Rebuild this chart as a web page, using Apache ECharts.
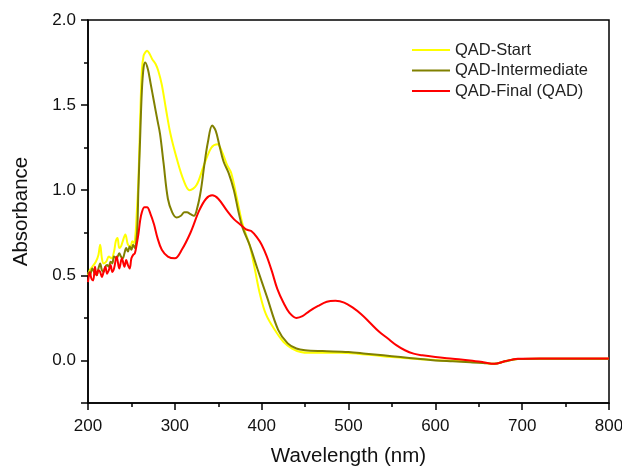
<!DOCTYPE html>
<html>
<head>
<meta charset="utf-8">
<script src="https://cdn.jsdelivr.net/npm/echarts@6/dist/echarts.min.js"></script>
<style>html,body{margin:0;padding:0;background:#fff;}#c{width:622px;height:466px;}</style>
</head>
<body>
<div id="c"></div>
<script>
const seriesNames = ['QAD-Start', 'QAD-Intermediate', 'QAD-Final (QAD)'];
const xTicks = [200, 300, 400, 500, 600, 700, 800];
const yTicks = ['0.0', '0.5', '1.0', '1.5', '2.0'];

const startX = [200,202,205,209,212,214,216,218,221,224,227,230,232,234,236,238,240,243,246,249,251,253,255,256,258,260,262,264,266,268,271,274,278,281,285,290,295,302,310,317,325,333,342,349,354,360,365,372,378,386,392,398,405,415,425,435,445,455,470,490,510,530,550,570,590,610,630,650,668,680,695,720,760,800];
const startY = [0.50,0.53,0.55,0.58,0.62,0.68,0.60,0.57,0.58,0.61,0.60,0.64,0.70,0.72,0.66,0.67,0.70,0.74,0.68,0.67,0.70,0.69,0.76,0.85,1.05,1.40,1.70,1.79,1.81,1.82,1.80,1.77,1.74,1.70,1.62,1.47,1.33,1.19,1.06,1.00,1.03,1.14,1.25,1.27,1.23,1.15,1.10,0.94,0.80,0.68,0.54,0.39,0.27,0.18,0.11,0.07,0.05,0.045,0.045,0.045,0.04,0.03,0.02,0.012,0.005,0.0,-0.005,-0.01,-0.02,-0.005,0.008,0.01,0.01,0.01];

const interX = [200,202,205,207,210,212,214,216,218,220,222,224,226,228,230,233,236,238,240,242,244,246,248,250,252,254,256,257,258,260,262,264,266,269,272,276,280,283,287,292,297,302,307,311,314,318,322,326,330,334,338,343,347,351,356,362,368,373,378,386,395,406,419,430,440,450,470,500,520,540,560,580,600,620,640,655,668,680,695,720,760,800];
const interY = [0.52,0.50,0.54,0.52,0.50,0.54,0.57,0.53,0.52,0.55,0.56,0.55,0.58,0.57,0.61,0.60,0.63,0.61,0.60,0.63,0.66,0.64,0.67,0.65,0.68,0.66,0.72,0.80,1.00,1.30,1.58,1.72,1.75,1.71,1.63,1.52,1.41,1.33,1.16,0.95,0.87,0.84,0.85,0.87,0.87,0.86,0.85,0.90,1.00,1.15,1.28,1.38,1.35,1.27,1.17,1.10,1.00,0.88,0.78,0.68,0.54,0.375,0.18,0.10,0.07,0.06,0.055,0.05,0.04,0.03,0.02,0.01,0.0,-0.005,-0.01,-0.015,-0.02,-0.005,0.008,0.01,0.01,0.01];

const finalX = [200,202,204,206,208,210,212,214,216,218,220,222,224,226,228,230,233,236,239,242,244,246,248,250,252,254,256,258,260,262,265,268,272,276,280,285,292,300,308,318,328,336,343,350,360,368,375,382,388,395,400,406,412,418,425,432,440,447,455,465,475,485,495,505,515,525,535,545,555,565,575,585,600,620,640,655,668,680,695,720,760,800];
const finalY = [0.46,0.52,0.48,0.47,0.55,0.50,0.53,0.52,0.49,0.52,0.55,0.51,0.53,0.56,0.52,0.54,0.61,0.54,0.60,0.55,0.59,0.56,0.54,0.60,0.62,0.63,0.68,0.74,0.82,0.87,0.90,0.90,0.86,0.80,0.72,0.65,0.61,0.60,0.65,0.75,0.88,0.95,0.97,0.95,0.88,0.83,0.80,0.77,0.76,0.72,0.68,0.61,0.52,0.42,0.34,0.28,0.25,0.26,0.29,0.32,0.345,0.35,0.34,0.31,0.27,0.22,0.17,0.13,0.09,0.06,0.04,0.03,0.02,0.01,0.0,-0.01,-0.02,-0.005,0.01,0.012,0.012,0.012];

function pairs(xs, ys) { return xs.map((x, i) => [x, ys[i]]); }

const chart = echarts.init(document.getElementById('c'));
const fontFam = '"Liberation Sans", Arial, sans-serif';
chart.setOption({
  animation: false,
  backgroundColor: '#fff',
  grid: { left: 88, right: 13, top: 20, bottom: 63, show: true, borderColor: '#000', borderWidth: 1.5, backgroundColor: 'transparent', containLabel: false, outerBoundsMode: 'none' },
  legend: {
    orient: 'vertical', left: 407, top: 36, itemWidth: 38, itemHeight: 2, itemGap: 2.5,
    icon: 'rect',
    textStyle: { fontFamily: fontFam, fontSize: 16.5, lineHeight: 18, color: '#222' },
    data: seriesNames
  },
  xAxis: {
    type: 'value', min: xTicks[0], max: xTicks[xTicks.length - 1], interval: 100,
    name: 'Wavelength (nm)', nameLocation: 'middle', nameGap: 43,
    nameTextStyle: { fontFamily: fontFam, fontSize: 20.5, color: '#111' },
    axisLine: { show: true, onZero: false, lineStyle: { color: '#000', width: 1.5 } },
    axisTick: { show: true, inside: false, length: 7, lineStyle: { color: '#000', width: 1.5 } },
    minorTick: { show: true, splitNumber: 2, length: 4, lineStyle: { color: '#000', width: 1.5 } },
    axisLabel: { margin: 15, fontFamily: fontFam, fontSize: 17, color: '#111' },
    splitLine: { show: false }
  },
  yAxis: {
    type: 'value', min: -0.25, max: 2.0, splitNumber: 5,
    name: 'Absorbance', nameLocation: 'middle', nameGap: 56,
    nameTextStyle: { fontFamily: fontFam, fontSize: 20.5, color: '#111' },
    axisLine: { show: true, onZero: false, lineStyle: { color: '#000', width: 1.5 } },
    axisTick: { show: true, inside: false, length: 7, lineStyle: { color: '#000', width: 1.5 } },
    minorTick: { show: true, splitNumber: 2, length: 4, lineStyle: { color: '#000', width: 1.5 } },
    axisLabel: {
      margin: 12, fontFamily: fontFam, fontSize: 17, color: '#111', showMinLabel: false,
      formatter: function (v) { const s = v.toFixed(1); return yTicks.indexOf(s) >= 0 && Math.abs(v * 2 - Math.round(v * 2)) < 1e-6 ? s : ''; }
    },
    splitLine: { show: false }
  },
  series: [
    { name: seriesNames[0], type: 'line', data: pairs(startX, startY), smooth: 0.35, showSymbol: false, lineStyle: { color: '#ffff00', width: 2 }, itemStyle: { color: '#ffff00' } },
    { name: seriesNames[1], type: 'line', data: pairs(interX, interY), smooth: 0.35, showSymbol: false, lineStyle: { color: '#808000', width: 2 }, itemStyle: { color: '#808000' } },
    { name: seriesNames[2], type: 'line', data: pairs(finalX, finalY), smooth: 0.35, showSymbol: false, lineStyle: { color: '#ff0000', width: 2 }, itemStyle: { color: '#ff0000' } }
  ]
});
</script>
</body>
</html>
